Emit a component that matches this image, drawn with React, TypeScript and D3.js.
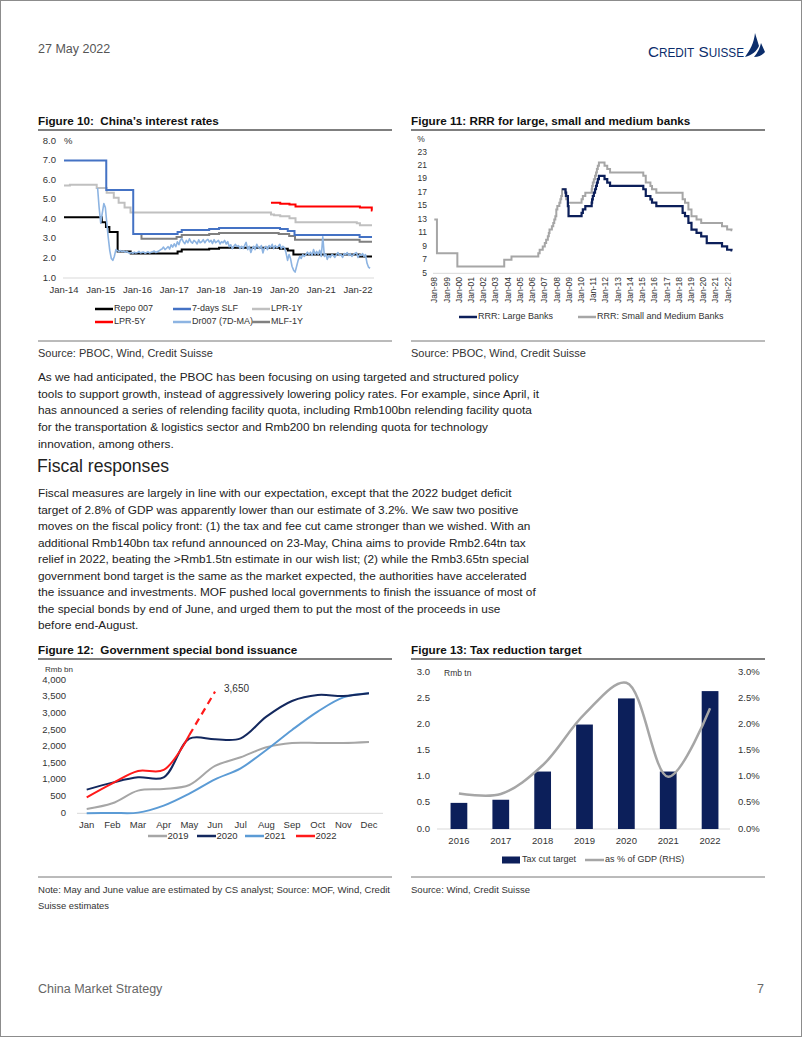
import React from "react";
import * as d3 from "d3";

const FONT = "'Liberation Sans', Arial, Helvetica, sans-serif";
const parse = d3.timeParse("%Y-%m-%d") as (s: string) => Date;

// ---------------- Figure 10 data ----------------
const fig10YTicks = [1, 2, 3, 4, 5, 6, 7, 8];
const fig10XYears = [2014, 2015, 2016, 2017, 2018, 2019, 2020, 2021, 2022];
const repo007: [string, number][] = [
  ["2014-01-01", 4.1], ["2015-01-12", 3.85], ["2015-02-22", 3.6], ["2015-03-28", 3.35],
  ["2015-06-18", 2.35], ["2015-10-26", 2.25], ["2017-02-03", 2.35], ["2017-03-16", 2.45],
  ["2017-12-14", 2.5], ["2018-03-22", 2.55], ["2019-11-18", 2.5], ["2020-02-03", 2.4],
  ["2020-03-30", 2.2], ["2022-01-17", 2.1], ["2022-05-20", 2.1],
];
const slf7d: [string, number][] = [
  ["2014-01-01", 7.0], ["2015-02-25", 5.5], ["2015-11-20", 3.25], ["2017-02-03", 3.35],
  ["2017-03-16", 3.45], ["2017-12-14", 3.5], ["2018-03-22", 3.55], ["2019-11-18", 3.5],
  ["2020-02-03", 3.4], ["2020-04-10", 3.2], ["2022-01-17", 3.1], ["2022-05-20", 3.1],
];
const lpr1y: [string, number][] = [
  ["2014-01-01", 5.72], ["2014-03-01", 5.76], ["2014-11-22", 5.6], ["2015-03-01", 5.35],
  ["2015-05-11", 5.1], ["2015-06-28", 4.85], ["2015-08-26", 4.6], ["2015-10-24", 4.35],
  ["2019-08-20", 4.25], ["2019-09-20", 4.2], ["2019-11-20", 4.15], ["2020-02-20", 4.05],
  ["2020-04-20", 3.85], ["2021-12-20", 3.8], ["2022-01-20", 3.7], ["2022-05-20", 3.7],
];
const lpr5y: [string, number][] = [
  ["2019-08-20", 4.85], ["2019-11-20", 4.8], ["2020-02-20", 4.75], ["2020-04-20", 4.65],
  ["2022-01-20", 4.6], ["2022-05-18", 4.45], ["2022-05-24", 4.45],
];
const mlf1y: [string, number][] = [
  ["2015-12-01", 3.25], ["2016-02-10", 3.0], ["2017-01-24", 3.1], ["2017-03-16", 3.2],
  ["2017-12-14", 3.25], ["2018-03-22", 3.3], ["2019-11-05", 3.25], ["2020-02-17", 3.15],
  ["2020-04-15", 2.95], ["2022-01-17", 2.85], ["2022-05-20", 2.85],
];
// Dr007 (7D-MA), half-monthly readings starting Dec-2014
const dr007: number[] = [
  5.6, 4.6,
  3.8, 4.3, 4.8, 4.6, 3.9, 3.1, 2.4, 2.0, 1.9, 2.1, 2.45, 2.4, 2.35, 2.4, 2.35, 2.38, 2.32, 2.36, 2.3, 2.27, 2.3, 2.26, 2.32, 2.28,
  2.3, 2.36, 2.28, 2.31, 2.33, 2.27, 2.3, 2.34, 2.28, 2.31, 2.34, 2.38, 2.3, 2.34, 2.38, 2.44, 2.48, 2.58, 2.45, 2.52, 2.6, 2.48, 2.7, 2.58,
  2.75, 2.6, 2.85, 2.7, 2.92, 3.02, 2.85, 2.75, 2.92, 2.8, 3.0, 2.85, 2.78, 2.92, 2.85, 2.74, 2.95, 2.8, 2.85, 2.96, 2.8, 2.92, 2.97, 2.84,
  2.92, 2.76, 2.96, 2.8, 2.86, 2.92, 2.74, 2.86, 2.8, 2.92, 2.74, 2.86, 2.6, 2.7, 2.5, 2.62, 2.72, 2.6, 2.66, 2.5, 2.62, 2.5, 2.66, 2.82,
  2.45, 2.62, 2.3, 2.52, 2.62, 2.45, 2.72, 2.55, 2.5, 2.66, 2.28, 2.55, 2.62, 2.45, 2.66, 2.55, 2.72, 2.5, 2.66, 2.55, 2.62, 2.72, 2.5, 2.62,
  2.55, 2.3, 1.9, 2.2, 2.0, 1.6, 1.4, 1.3, 1.6, 1.9, 2.1, 2.0, 2.2, 2.1, 2.2, 2.32, 2.2, 2.32, 2.15, 2.45, 2.2, 2.36, 2.2, 2.42,
  2.1, 3.1, 2.1, 2.22, 1.95, 2.15, 2.05, 2.2, 2.15, 2.05, 2.2, 2.3, 2.15, 2.2, 2.05, 2.25, 2.2, 2.3, 2.15, 2.25, 2.1, 2.2, 2.25, 2.3,
  2.05, 2.2, 2.15, 2.25, 2.1, 2.2, 1.75, 1.55, 1.5,
];

// ---------------- Figure 11 data ----------------
const rrrYTicks = [5, 7, 9, 11, 13, 15, 17, 19, 21, 23];
const rrrXYears = d3.range(1998, 2023);
const rrrSmall: [string, number][] = [
  ["1998-01-01", 13], ["1998-03-21", 8], ["1999-11-21", 6], ["2003-09-21", 7], ["2004-04-25", 7.5],
  ["2006-07-05", 8], ["2006-08-15", 8.5], ["2006-11-15", 9], ["2007-01-15", 9.5], ["2007-02-25", 10],
  ["2007-04-16", 10.5], ["2007-05-15", 11], ["2007-06-05", 11.5], ["2007-08-15", 12], ["2007-09-25", 12.5],
  ["2007-10-25", 13], ["2007-11-26", 13.5], ["2007-12-25", 14.5], ["2008-01-25", 15], ["2008-03-25", 15.5],
  ["2008-04-25", 16], ["2008-05-20", 16.5], ["2008-06-15", 17.5], ["2008-09-25", 16.5], ["2008-10-15", 16],
  ["2008-12-05", 15.5], ["2010-01-18", 16], ["2010-02-25", 16.5], ["2010-05-10", 17], ["2010-11-16", 17.5],
  ["2010-11-29", 18], ["2010-12-20", 18.5], ["2011-01-20", 19], ["2011-02-24", 19.5], ["2011-03-25", 20],
  ["2011-04-21", 20.5], ["2011-05-18", 21], ["2011-06-20", 21.5], ["2011-12-05", 21], ["2012-02-24", 20.5],
  ["2012-05-18", 20], ["2015-02-05", 19.5], ["2015-04-20", 18.5], ["2015-09-06", 18], ["2015-10-24", 17.5],
  ["2016-03-01", 17], ["2018-04-25", 16], ["2018-07-05", 15.5], ["2018-10-15", 14.5], ["2019-01-15", 13.5],
  ["2019-06-15", 13], ["2019-11-01", 12.5], ["2021-07-15", 12], ["2021-12-15", 11.5], ["2022-04-25", 11.4],
  ["2022-05-15", 11.4],
];
const rrrLarge: [string, number][] = [
  ["2008-06-15", 17.5], ["2008-09-25", 17], ["2008-10-15", 16.5], ["2008-12-05", 15], ["2008-12-25", 13.5],
  ["2010-01-18", 14], ["2010-02-25", 14.5], ["2010-05-10", 15], ["2010-11-16", 15.5], ["2010-11-29", 16],
  ["2010-12-20", 16.5], ["2011-01-20", 17], ["2011-02-24", 17.5], ["2011-03-25", 18], ["2011-04-21", 18.5],
  ["2011-05-18", 19], ["2011-06-20", 19.5], ["2011-12-05", 19], ["2012-02-24", 18.5], ["2012-05-18", 18],
  ["2015-02-05", 17.5], ["2015-04-20", 16.5], ["2015-09-06", 16], ["2015-10-24", 15.5], ["2016-03-01", 15],
  ["2018-04-25", 14], ["2018-07-05", 13.5], ["2018-10-15", 12.5], ["2019-01-15", 11.5], ["2019-06-15", 11],
  ["2019-11-01", 10.5], ["2020-04-15", 9.5], ["2021-07-15", 9], ["2021-12-15", 8.5], ["2022-04-25", 8.4],
  ["2022-05-15", 8.4],
];

// ---------------- Figure 12 data ----------------
const months = ["Jan", "Feb", "Mar", "Apr", "May", "Jun", "Jul", "Aug", "Sep", "Oct", "Nov", "Dec"];
const bondYTicks = [0, 500, 1000, 1500, 2000, 2500, 3000, 3500, 4000];
const bond2019 = [130, 300, 680, 730, 850, 1420, 1680, 1980, 2110, 2110, 2110, 2140];
const bond2020 = [710, 920, 1080, 1080, 2240, 2220, 2250, 2900, 3370, 3550, 3520, 3600];
const bond2021 = [0, 10, 20, 230, 590, 1020, 1350, 1900, 2500, 3050, 3480, 3600];
const bond2022 = [480, 900, 1270, 1300, 2350];
const bond2022Est = [2350, 3650]; // May, Jun (estimates)
const bond2022EstMonths = ["May", "Jun"];

// ---------------- Figure 13 data ----------------
const taxYears = ["2016", "2017", "2018", "2019", "2020", "2021", "2022"];
const taxCut = [0.5, 0.56, 1.1, 2.0, 2.5, 1.1, 2.64];
const taxGdp = [0.68, 0.67, 1.22, 2.2, 2.8, 1.0, 2.31];
const taxTicks = [0, 0.5, 1.0, 1.5, 2.0, 2.5, 3.0];

// ---------------- Text ----------------
const para1 = [
  "As we had anticipated, the PBOC has been focusing on using targeted and structured policy",
  "tools to support growth, instead of aggressively lowering policy rates. For example, since April, it",
  "has announced a series of relending facility quota, including Rmb100bn relending facility quota",
  "for the transportation & logistics sector and Rmb200 bn relending quota for technology",
  "innovation, among others.",
];
const para2 = [
  "Fiscal measures are largely in line with our expectation, except that the 2022 budget deficit",
  "target of 2.8% of GDP was apparently lower than our estimate of 3.2%. We saw two positive",
  "moves on the fiscal policy front: (1) the tax and fee cut came stronger than we wished. With an",
  "additional Rmb140bn tax refund announced on 23-May, China aims to provide Rmb2.64tn tax",
  "relief in 2022, beating the >Rmb1.5tn estimate in our wish list; (2) while the Rmb3.65tn special",
  "government bond target is the same as the market expected, the authorities have accelerated",
  "the issuance and investments. MOF pushed local governments to finish the issuance of most of",
  "the special bonds by end of June, and urged them to put the most of the proceeds in use",
  "before end-August.",
];
const note12 = [
  "Note: May and June value are estimated by CS analyst; Source: MOF, Wind, Credit",
  "Suisse estimates",
];
const note12Widths = [352, 71];

const NAVY = "#0c1f5a";
const TXT = "#333";

function T(props: any) {
  const { children, ...rest } = props;
  return (
    <text fontFamily={FONT} fill={TXT} dominantBaseline="middle" {...rest}>
      {children}
    </text>
  );
}

function Fig10() {
  const x = d3.scaleTime().domain([new Date(2014, 0, 1), new Date(2022, 0, 1)]).range([64, 358]);
  const y = d3.scaleLinear().domain([1, 8]).range([278, 141]);
  const step = d3.line<[string, number]>().x((d) => x(parse(d[0]))).y((d) => y(d[1])).curve(d3.curveStepAfter);
  const drPts: [Date, number][] = dr007.map((v, i) => [
    new Date(2014, 11 + Math.floor(i / 2), i % 2 === 0 ? 1 : 16), v,
  ]);
  const drLine = d3.line<[Date, number]>().x((d) => x(d[0])).y((d) => y(d[1]));
  const legend = [
    { name: "Repo 007", color: "#000", lx: 95, ly: 309 },
    { name: "7-days SLF", color: "#4472c4", lx: 173, ly: 309 },
    { name: "LPR-1Y", color: "#c0c0c0", lx: 252, ly: 309 },
    { name: "LPR-5Y", color: "#ff0000", lx: 95, ly: 322 },
    { name: "Dr007 (7D-MA)", color: "#8db4e2", lx: 173, ly: 322 },
    { name: "MLF-1Y", color: "#808080", lx: 252, ly: 322 },
  ];
  return (
    <g>
      {fig10YTicks.map((t) => (
        <T key={t} x={56} y={y(t)} fontSize={9.5} textAnchor="end">{d3.format(".1f")(t)}</T>
      ))}
      <T x={64} y={y(8)} fontSize={9.5}>%</T>
      <line x1={63} x2={374} y1={y(1)} y2={y(1)} stroke="#d9d9d9" strokeWidth={1} />
      {fig10XYears.map((yr) => (
        <T key={yr} x={x(new Date(yr, 0, 1))} y={290} fontSize={9.5} textAnchor="middle">
          {"Jan-" + String(yr).slice(2)}
        </T>
      ))}
      <path d={step(lpr1y)!} fill="none" stroke="#c0c0c0" strokeWidth={2} />
      <path d={step(mlf1y)!} fill="none" stroke="#808080" strokeWidth={2} />
      <path d={step(slf7d)!} fill="none" stroke="#4472c4" strokeWidth={2} />
      <path d={step(lpr5y)!} fill="none" stroke="#ff0000" strokeWidth={2} />
      <path d={step(repo007)!} fill="none" stroke="#000" strokeWidth={2} />
      <path d={drLine(drPts)!} fill="none" stroke="#8db4e2" strokeWidth={1.6} strokeLinejoin="round" />
      {legend.map((l) => (
        <g key={l.name}>
          <line x1={l.lx} x2={l.lx + 18} y1={l.ly} y2={l.ly} stroke={l.color} strokeWidth={2.5} />
          <T x={l.lx + 19} y={l.ly} fontSize={9}>{l.name}</T>
        </g>
      ))}
    </g>
  );
}

function Fig11() {
  const x = d3.scaleTime().domain([new Date(1998, 0, 1), new Date(2022, 0, 1)]).range([434.3, 727.7]);
  const y = d3.scaleLinear().domain([5, 23]).range([273.3, 152.3]);
  const step = d3.line<[string, number]>().x((d) => x(parse(d[0]))).y((d) => y(d[1])).curve(d3.curveStepAfter);
  return (
    <g>
      <T x={421} y={140} fontSize={8.5} textAnchor="middle">%</T>
      {rrrYTicks.map((t) => (
        <T key={t} x={427} y={y(t)} fontSize={8.5} textAnchor="end">{t}</T>
      ))}
      <line x1={433} x2={731} y1={y(5)} y2={y(5)} stroke="#d9d9d9" strokeWidth={1} />
      {rrrXYears.map((yr) => {
        const xx = x(new Date(yr, 0, 1));
        return (
          <text key={yr} fontFamily={FONT} fill={TXT} fontSize={8.5} textAnchor="end"
            transform={`translate(${xx + 3},277) rotate(-90)`}>
            {"Jan-" + String(yr).slice(2)}
          </text>
        );
      })}
      <path d={step(rrrSmall)!} fill="none" stroke="#a6a6a6" strokeWidth={2} />
      <path d={step(rrrLarge)!} fill="none" stroke={NAVY} strokeWidth={2.2} />
      <line x1={459} x2={477} y1={317} y2={317} stroke={NAVY} strokeWidth={2.5} />
      <T x={478} y={317} fontSize={9}>RRR: Large Banks</T>
      <line x1={578} x2={596} y1={317} y2={317} stroke="#a6a6a6" strokeWidth={2.5} />
      <T x={597} y={317} fontSize={9}>RRR: Small and Medium Banks</T>
    </g>
  );
}

function Fig12() {
  const x = d3.scalePoint<string>().domain(months).range([86.7, 369]);
  const y = d3.scaleLinear().domain([0, 4000]).range([813.3, 680]);
  const line = d3.line<number>().x((_, i) => x(months[i])!).y((d) => y(d)).curve(d3.curveCatmullRom.alpha(0.5));
  const est = d3.line<number>().x((_, i) => x(bond2022EstMonths[i])!).y((d) => y(d));
  const legend = [
    { name: "2019", color: "#a6a6a6", lx: 148 },
    { name: "2020", color: "#13285e", lx: 197 },
    { name: "2021", color: "#5b9bd5", lx: 245 },
    { name: "2022", color: "#ff1a1a", lx: 296 },
  ];
  return (
    <g>
      <T x={45} y={669.5} fontSize={8}>Rmb bn</T>
      {bondYTicks.map((t) => (
        <T key={t} x={66} y={y(t)} fontSize={9.5} textAnchor="end">{d3.format(",")(t)}</T>
      ))}
      <line x1={77} x2={383} y1={y(0)} y2={y(0)} stroke="#d9d9d9" strokeWidth={1} />
      {months.map((m) => (
        <T key={m} x={x(m)} y={825} fontSize={9.5} textAnchor="middle">{m}</T>
      ))}
      <path d={line(bond2019)!} fill="none" stroke="#a6a6a6" strokeWidth={2} />
      <path d={line(bond2021)!} fill="none" stroke="#5b9bd5" strokeWidth={2} />
      <path d={line(bond2020)!} fill="none" stroke="#13285e" strokeWidth={2} />
      <path d={line(bond2022)!} fill="none" stroke="#ff1a1a" strokeWidth={2} />
      <path d={est(bond2022Est)!} fill="none" stroke="#ff1a1a" strokeWidth={2.2} strokeDasharray="7,5" />
      <T x={224} y={y(bond2022Est[1]) - 2} fontSize={10}>{d3.format(",")(bond2022Est[1])}</T>
      {legend.map((l) => (
        <g key={l.name}>
          <line x1={l.lx} x2={l.lx + 19} y1={836} y2={836} stroke={l.color} strokeWidth={2.5} />
          <T x={l.lx + 19.5} y={836} fontSize={9.5}>{l.name}</T>
        </g>
      ))}
    </g>
  );
}

function Fig13() {
  const x = d3.scaleBand<string>().domain(taxYears).range([438, 731]).paddingInner(0.6).paddingOuter(0.3);
  const yL = d3.scaleLinear().domain([0, 3]).range([829, 672.3]);
  const yR = d3.scaleLinear().domain([0, 3]).range([829, 672.3]);
  const line = d3.line<number>()
    .x((_, i) => x(taxYears[i])! + x.bandwidth() / 2)
    .y((d) => yR(d))
    .curve(d3.curveCatmullRom.alpha(0.5));
  return (
    <g>
      {taxTicks.map((t) => (
        <g key={t}>
          <T x={430} y={yL(t)} fontSize={9.5} textAnchor="end">{d3.format(".1f")(t)}</T>
          <T x={738} y={yR(t)} fontSize={9.5}>{d3.format(".1f")(t) + "%"}</T>
        </g>
      ))}
      <T x={444} y={674} fontSize={8.5}>Rmb tn</T>
      <line x1={437} x2={730} y1={yL(0)} y2={yL(0)} stroke="#d9d9d9" strokeWidth={1} />
      {taxYears.map((yr, i) => (
        <g key={yr}>
          <rect x={x(yr)} y={yL(taxCut[i])} width={x.bandwidth()} height={yL(0) - yL(taxCut[i])} fill={NAVY} />
          <T x={x(yr)! + x.bandwidth() / 2} y={841} fontSize={9.5} textAnchor="middle">{yr}</T>
        </g>
      ))}
      <path d={line(taxGdp)!} fill="none" stroke="#a6a6a6" strokeWidth={2.5} />
      <rect x={502} y={856.5} width={18} height={7} fill={NAVY} />
      <T x={522} y={860} fontSize={9}>Tax cut target</T>
      <line x1={585} x2={604} y1={860} y2={860} stroke="#a6a6a6" strokeWidth={2.5} />
      <T x={605} y={860} fontSize={9}>as % of GDP (RHS)</T>
    </g>
  );
}

function FigFrame(props: {
  x1: number; x2: number; title: string; top: number; bottom: number;
  source: string[]; widths?: number[]; fontSize?: number;
}) {
  const { x1, x2, title, top, bottom, source, widths, fontSize } = props;
  return (
    <g>
      <T x={x1} y={top - 8} fontSize={11.7} fontWeight="bold" fill="#111" style={{ whiteSpace: "pre" }}>{title}</T>
      <line x1={x1} x2={x2} y1={top} y2={top} stroke="#555" strokeWidth={1.5} />
      <line x1={x1} x2={x2} y1={bottom} y2={bottom} stroke="#777" strokeWidth={1} />
      {source.map((s, i) => (
        <T key={i} x={x1} y={bottom + 13 + i * 16} fontSize={fontSize ?? 11}
          textLength={widths ? widths[i] : undefined}
          lengthAdjust={widths ? "spacingAndGlyphs" : undefined}>{s}</T>
      ))}
    </g>
  );
}

export default function App() {
  return (
    <svg width={802} height={1037} style={{ position: "absolute", left: 0, top: 0, background: "#fff" }}>
      <rect x={0.5} y={0.5} width={801} height={1036} fill="#fff" stroke="#8c8c8c" strokeWidth={1} />
      {/* header */}
      <T x={38} y={50} fontSize={12.5} fill="#555">27 May 2022</T>
      <text x={648} y={57} fontFamily={FONT} fill="#0b2d6b" textLength={96} lengthAdjust="spacingAndGlyphs">
        <tspan fontSize={15.5}>C</tspan>
        <tspan fontSize={12}>REDIT</tspan>
        <tspan fontSize={15.5}> S</tspan>
        <tspan fontSize={12}>UISSE</tspan>
      </text>
      <path d="M745,57 C750,50 754,43 755,33 L759,46 C757,51 752,55 745,57 Z" fill="#0b2d6b" />
      <path d="M754,57 C758,52 760,48 761,43 L765,52 C762,55 759,57 754,57 Z" fill="#0b2d6b" />

      {/* Figures 10, 11 */}
      <FigFrame x1={38} x2={392} top={130} bottom={341} title="Figure 10:  China’s interest rates"
        source={["Source: PBOC, Wind, Credit Suisse"]} />
      <FigFrame x1={411} x2={765} top={130} bottom={341} title="Figure 11: RRR for large, small and medium banks"
        source={["Source: PBOC, Wind, Credit Suisse"]} />
      <Fig10 />
      <Fig11 />

      {para1.map((s, i) => (
        <T key={i} x={38} y={378 + i * 16.6} fontSize={11.8} fill="#222">{s}</T>
      ))}
      <T x={37} y={467} fontSize={18.5} fill="#222" textLength={132} lengthAdjust="spacingAndGlyphs">Fiscal responses</T>
      {para2.map((s, i) => (
        <T key={i} x={38} y={494 + i * 16.5} fontSize={11.8} fill="#222">{s}</T>
      ))}

      {/* Figures 12, 13 */}
      <FigFrame x1={38} x2={392} top={659} bottom={877} title="Figure 12:  Government special bond issuance"
        source={note12} widths={note12Widths} fontSize={9.5} />
      <FigFrame x1={411} x2={765} top={659} bottom={877} title="Figure 13: Tax reduction target"
        source={["Source: Wind, Credit Suisse"]} widths={[119]} fontSize={9.5} />
      <Fig12 />
      <Fig13 />

      {/* footer */}
      <T x={38} y={990} fontSize={12.5} fill="#666">China Market Strategy</T>
      <T x={764} y={990} fontSize={12.5} fill="#666" textAnchor="end">7</T>
    </svg>
  );
}
